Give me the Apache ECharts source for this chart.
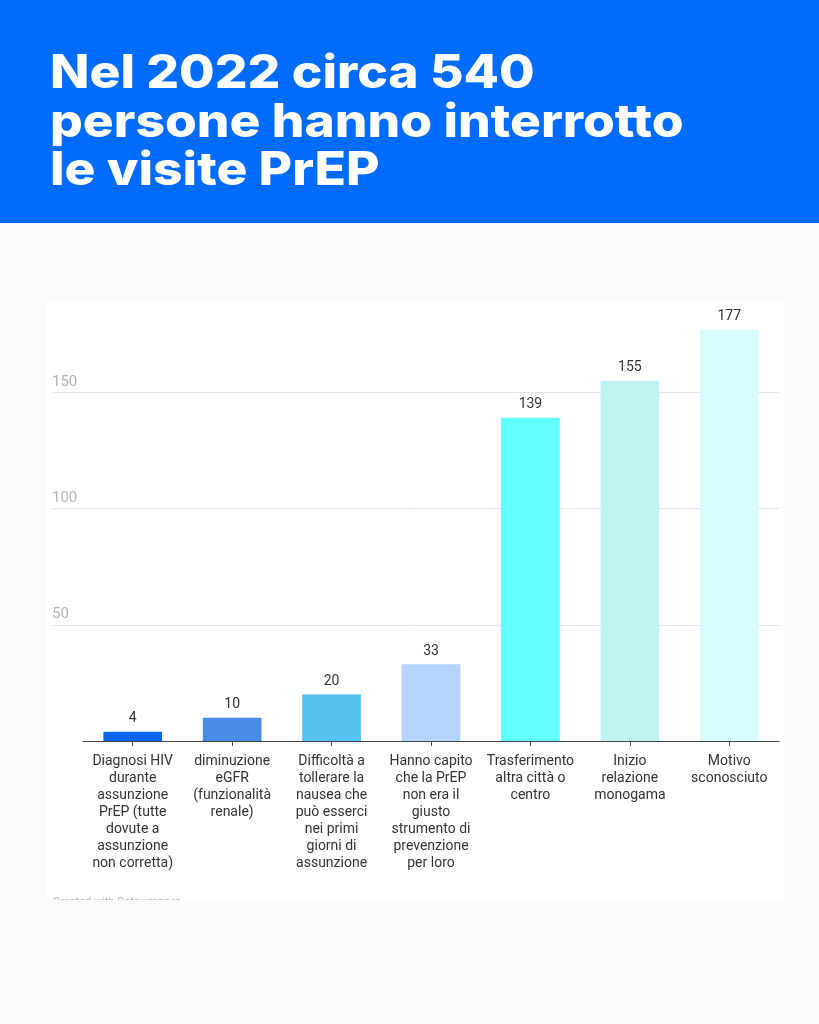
<!DOCTYPE html>
<html>
<head>
<meta charset="utf-8">
<script src="https://cdn.jsdelivr.net/npm/echarts@6/dist/echarts.min.js"></script>
<style>
html,body{margin:0;padding:0;background:#fcfafb;}
#c{width:819px;height:1024px;}
</style>
</head>
<body>
<div id="c"></div>
<script>
const titleText = 'Nel 2022 circa 540\npersone hanno interrotto\nle visite PrEP';
const categories = [
  'Diagnosi HIV\ndurante\nassunzione\nPrEP (tutte\ndovute a\nassunzione\nnon corretta)',
  'diminuzione\neGFR\n(funzionalità\nrenale)',
  'Difficoltà a\ntollerare la\nnausea che\npuò esserci\nnei primi\ngiorni di\nassunzione',
  'Hanno capito\nche la PrEP\nnon era il\ngiusto\nstrumento di\nprevenzione\nper loro',
  'Trasferimento\naltra città o\ncentro',
  'Inizio\nrelazione\nmonogama',
  'Motivo\nsconosciuto'
];
const values = [4, 10, 20, 33, 139, 155, 177];
const barColors = ['#0a66f5', '#4a8be6', '#55c2ef', '#b4d3fd', '#62ffff', '#bef3f2', '#d8fbfd'];
const yTicks = [0, 50, 100, 150, 200];
const sourceText = 'Created with Datawrapper';

const chart = echarts.init(document.getElementById('c'), null, {renderer: 'canvas'});
const yMin = yTicks[0], yMax = yTicks[yTicks.length - 1], yStep = yTicks[1] - yTicks[0];

chart.setOption({
  backgroundColor: '#fcfafb',
  animation: false,
  graphic: [
    {type: 'rect', z: -10, shape: {x: 0, y: 0, width: 819, height: 223}, style: {fill: '#006bff'}},
    {type: 'rect', z: -10, shape: {x: 46, y: 301, width: 739, height: 599}, style: {fill: '#ffffff'}},
    {type: 'text', z: -9, x: 53, y: 897, style: {text: sourceText, fill: '#b5b5b5', font: '11px Roboto'}},
    {type: 'rect', z: -8, shape: {x: 0, y: 900, width: 819, height: 124}, style: {fill: '#fcfafb'}},
    {
      type: 'text', z: 10, x: 50, y: 50, scaleX: 1.12,
      style: {
        text: titleText, fill: '#ffffff',
        font: '800 46px Inter', lineHeight: 48.5
      }
    }
  ],
  grid: [
    {left: 52, right: 40, top: 276, bottom: 283},
    {left: 83, right: 40, top: 276, bottom: 283}
  ],
  xAxis: [
    {gridIndex: 0, type: 'category', data: categories, show: false},
    {
      gridIndex: 1, type: 'category', data: categories,
      axisLine: {show: true, lineStyle: {color: '#444', width: 1}},
      axisTick: {show: true, alignWithLabel: true, length: 5, lineStyle: {color: '#444'}},
      axisLabel: {
        interval: 0, margin: 12, color: '#333', fontFamily: 'Roboto', fontSize: 14, lineHeight: 17, align: 'center'
      }
    }
  ],
  yAxis: [
    {
      gridIndex: 0, type: 'value', min: yMin, max: yMax, interval: yStep,
      axisLine: {show: false}, axisTick: {show: false},
      splitLine: {show: true, lineStyle: {color: ['transparent', '#e3e3e3', '#e3e3e3', '#e3e3e3', 'transparent'], width: 1}},
      axisLabel: {
        inside: true, margin: 0, verticalAlign: 'bottom', align: 'left',
        color: '#b4b4b4', fontFamily: 'Roboto', fontSize: 15, padding: [0, 0, 3, 0],
        formatter: function (v) { return (v === yMin || v === yMax) ? '' : String(v); }
      }
    },
    {
      gridIndex: 1, type: 'value', min: yMin, max: yMax, interval: yStep,
      show: false, splitLine: {show: false}
    }
  ],
  series: [{
    type: 'bar',
    xAxisIndex: 1, yAxisIndex: 1,
    barWidth: '59%',
    data: values.map((v, i) => ({value: v, itemStyle: {color: barColors[i]}})),
    label: {
      show: true, position: 'top', distance: 6,
      color: '#333', fontFamily: 'Roboto', fontSize: 14
    }
  }]
});
</script>
</body>
</html>
